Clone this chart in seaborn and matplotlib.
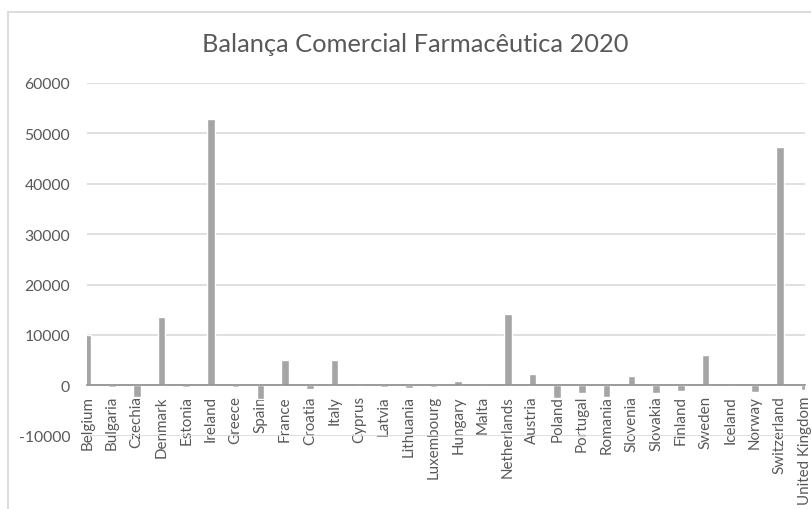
import matplotlib
matplotlib.use("Agg")
import matplotlib.pyplot as plt
from matplotlib.patches import Rectangle
import seaborn as sns
import pandas as pd

# Pharmaceutical trade balance by country, 2020
countries = [
    "Belgium", "Bulgaria", "Czechia", "Denmark", "Estonia", "Ireland", "Greece",
    "Spain", "France", "Croatia", "Italy", "Cyprus", "Latvia", "Lithuania",
    "Luxembourg", "Hungary", "Malta", "Netherlands", "Austria", "Poland",
    "Portugal", "Romania", "Slovenia", "Slovakia", "Finland", "Sweden",
    "Iceland", "Norway", "Switzerland", "United Kingdom",
]
balance = [
    9900, -400, -2300, 13500, -400, 52800, -300,
    -2800, 5000, -650, 5000, 0, -300, -500,
    -300, 900, 0, 14200, 2300, -2500,
    -1500, -2300, 1800, -1500, -1200, 6100,
    0, -1400, 47200, -950,
]
y_ticks = [-10000, 0, 10000, 20000, 30000, 40000, 50000, 60000]
title = "Balança Comercial Farmacêutica 2020"

df = pd.DataFrame({"country": countries, "balance": balance})

sns.set_style("white")
plt.rcParams["font.family"] = ["Lato", "DejaVu Sans"]

text_color = "#595959"
grid_color = "#d9d9d9"

fig = plt.figure(figsize=(8.11, 5.10), dpi=100)
fig.patch.set_facecolor("white")

# chart frame
fig.patches.append(Rectangle((8.3 / 811, -0.1), 1.2, 1 - 13.3 / 510 + 0.1,
                             transform=fig.transFigure, fill=False,
                             edgecolor=grid_color, linewidth=1.3))

ax = fig.add_axes([86.7 / 811, 1 - 436.7 / 510, (804.8 - 86.7) / 811, (436.7 - 84) / 510])
ax.set_facecolor("none")

sns.barplot(data=df, x="country", y="balance", color="#a5a5a5", saturation=1,
            width=0.31, ax=ax, zorder=3)

ax.set_ylim(-10000, 60000)
ax.set_xlim(-0.02, 29.01)
ax.set_yticks(y_ticks)
ax.set_yticklabels([str(v) for v in y_ticks])
ax.set_xlabel("")
ax.set_ylabel("")

ax.yaxis.grid(True, color=grid_color, linewidth=1.2, zorder=0)
ax.xaxis.grid(False)
ax.set_axisbelow(True)

for side in ["top", "right", "left"]:
    ax.spines[side].set_visible(False)
ax.spines["bottom"].set_position(("data", 0))
ax.spines["bottom"].set_color("#8f8f8f")
ax.spines["bottom"].set_linewidth(1.2)
ax.spines["bottom"].set_zorder(4)

ax.tick_params(axis="y", length=0, pad=12, labelsize=11.3, labelcolor=text_color)
ax.tick_params(axis="x", length=0, pad=7, labelsize=10.9, labelcolor=text_color,
               labelrotation=90)
for lbl in ax.get_xticklabels():
    lbl.set_verticalalignment("top")
    lbl.set_horizontalalignment("center")

fig.text(415 / 811, 1 - 45 / 510, title, ha="center", va="center",
         fontsize=18.3, color=text_color)

fig.savefig("out.png", dpi=100, facecolor="white")
